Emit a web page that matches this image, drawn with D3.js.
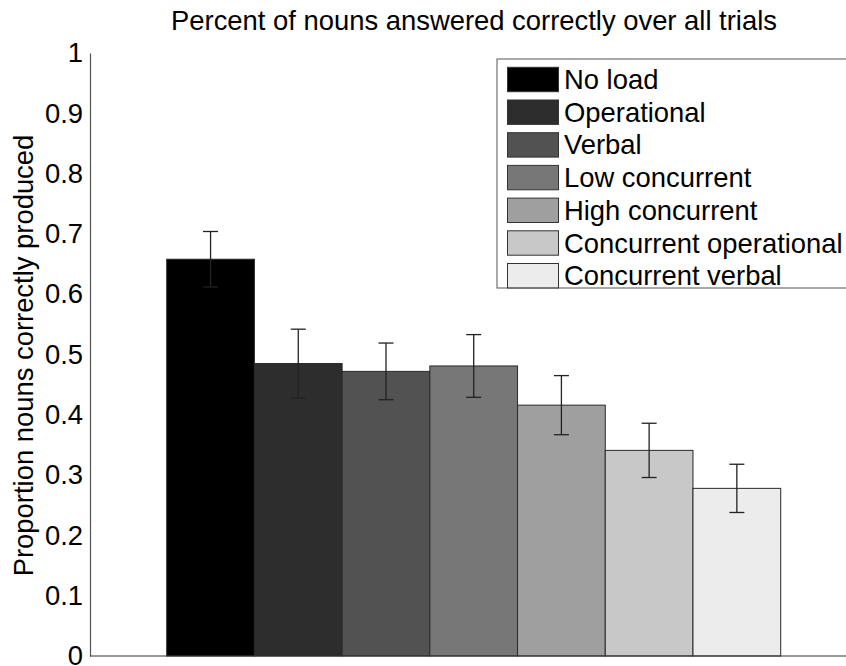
<!DOCTYPE html>
<html>
<head>
<meta charset="utf-8">
<script src="https://cdn.jsdelivr.net/npm/d3@7"></script>
<style>
  html, body { margin: 0; padding: 0; background: #fff; }
  svg { display: block; font-family: "Liberation Sans", Arial, Helvetica, sans-serif; }
</style>
</head>
<body>
<svg id="chart" width="846" height="666"></svg>
<script>
// Conditions, mean proportion correct and standard error per condition
const conditions = ["No load", "Operational", "Verbal", "Low concurrent",
                    "High concurrent", "Concurrent operational", "Concurrent verbal"];
const means  = [0.658, 0.485, 0.472, 0.481, 0.416, 0.341, 0.278];
const errors = [0.046, 0.057, 0.047, 0.052, 0.049, 0.045, 0.040];
const fills  = ["#000000", "#2d2d2d", "#525252", "#777777", "#9f9f9f", "#c8c8c8", "#ececec"];
const yTicks = [0, 0.1, 0.2, 0.3, 0.4, 0.5, 0.6, 0.7, 0.8, 0.9, 1];
const yTickLabels = ["0", "0.1", "0.2", "0.3", "0.4", "0.5", "0.6", "0.7", "0.8", "0.9", "1"];

const svg = d3.select("#chart");
const FONT = 27.4;

const axisLeftX = 90;
const y = d3.scaleLinear().domain([0, 1]).range([656, 53]);
const x = d3.scaleBand().domain(conditions).range([166.7, 780.7]).padding(0);

// Bars
svg.append("g").selectAll("rect")
  .data(conditions)
  .join("rect")
  .attr("x", d => x(d))
  .attr("y", (d, i) => y(means[i]))
  .attr("width", x.bandwidth())
  .attr("height", (d, i) => y(0) - y(means[i]))
  .attr("fill", (d, i) => fills[i])
  .attr("stroke", "#2a2a2a")
  .attr("stroke-width", 1);

// Error bars
const capHalf = 7.5;
const eb = svg.append("g").attr("stroke", "#222").attr("stroke-width", 1.3).attr("fill", "none");
conditions.forEach((c, i) => {
  const cx = x(c) + x.bandwidth() / 2;
  const lo = y(means[i] - errors[i]), hi = y(means[i] + errors[i]);
  eb.append("line").attr("x1", cx).attr("x2", cx).attr("y1", lo).attr("y2", hi);
  eb.append("line").attr("x1", cx - capHalf).attr("x2", cx + capHalf).attr("y1", hi).attr("y2", hi);
  eb.append("line").attr("x1", cx - capHalf).attr("x2", cx + capHalf).attr("y1", lo).attr("y2", lo);
});

// Y axis (no tick marks, labels only)
const yAxis = d3.axisLeft(y)
  .tickValues(yTicks)
  .tickFormat((d, i) => yTickLabels[i])
  .tickSize(0)
  .tickPadding(7);
const gy = svg.append("g").attr("transform", `translate(${axisLeftX},0)`).call(yAxis);
gy.select(".domain").attr("stroke", "#555").attr("stroke-width", 1.2);
gy.selectAll("text")
  .attr("font-size", FONT)
  .attr("font-family", "Liberation Sans, Arial, sans-serif")
  .attr("fill", "#000");

// X axis baseline
svg.append("line")
  .attr("x1", axisLeftX).attr("x2", 860)
  .attr("y1", y(0)).attr("y2", y(0))
  .attr("stroke", "#333").attr("stroke-width", 1.2);

// Title
svg.append("text")
  .attr("x", 474).attr("y", 30)
  .attr("text-anchor", "middle")
  .attr("font-size", FONT)
  .text("Percent of nouns answered correctly over all trials");

// Y axis label
svg.append("text")
  .attr("transform", `translate(33,${(y(0) + y(1)) / 2 + 1}) rotate(-90)`)
  .attr("text-anchor", "middle")
  .attr("font-size", FONT)
  .text("Proportion nouns correctly produced");

// Legend
const legend = svg.append("g").attr("transform", "translate(497,59)");
legend.append("rect")
  .attr("x", 0).attr("y", 0).attr("width", 360).attr("height", 229)
  .attr("fill", "#fff").attr("stroke", "#555").attr("stroke-width", 1);
const rowStep = 32.7;
const rows = legend.selectAll("g.row").data(conditions).join("g")
  .attr("class", "row")
  .attr("transform", (d, i) => `translate(10.5,${8.3 + i * rowStep})`);
rows.append("rect")
  .attr("width", 51).attr("height", 24.4)
  .attr("fill", (d, i) => fills[i])
  .attr("stroke", "#333").attr("stroke-width", 1);
rows.append("text")
  .attr("x", 56.5).attr("y", 12.2).attr("dy", "0.35em")
  .attr("font-size", FONT)
  .text(d => d);
</script>
</body>
</html>
